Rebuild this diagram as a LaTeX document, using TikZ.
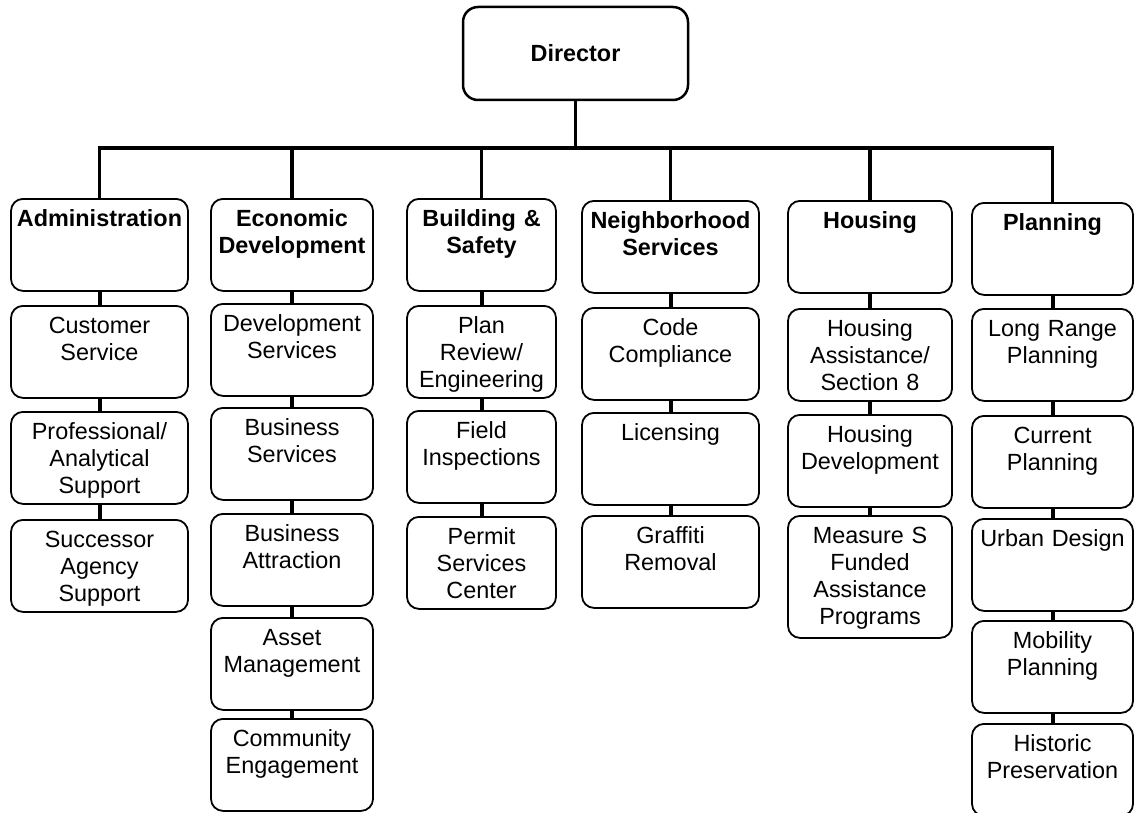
\documentclass[tikz,border=0pt]{standalone}
\usepackage{fontspec}
\setmainfont{Liberation Sans}
\usetikzlibrary{positioning}
\tikzset{font=\fontsize{23.4}{27}\selectfont}
\tikzset{every picture/.style={line width=1.8pt}}
\tikzstyle{unit}=[draw,rounded corners=12pt,anchor=north,align=center,inner xsep=2pt,inner ysep=0pt,text height=28pt,text depth=64pt]
\tikzstyle{head}=[unit,font=\fontsize{23.4}{27}\selectfont\bfseries]
\tikzstyle{conn}=[line width=3.2pt]
\tikzstyle{link}=[line width=4pt]
\tikzset{cA/.style={text width=173pt},cB/.style={text width=158pt},cC/.style={text width=145pt},
  cD/.style={text width=173pt},cE/.style={text width=160pt},cF/.style={text width=157pt}}

\begin{document}
\begin{tikzpicture}[x=1pt,y=-1pt]
\useasboundingbox (0,0) rectangle (1134,813);
\node[draw,rounded corners=15pt,line width=2.5pt,minimum width=225pt,minimum height=93pt,
  font=\fontsize{23.4}{27}\selectfont\bfseries] (dir) at (575.5,53.5) {\raisebox{-2pt}{Director}};
\coordinate (bus) at (575.5,148);
% divisions
\node[head,cA] (adm) at (99.5,198) {Administration};
\node[head,cB] (eco) at (292,198) {Economic\\Development};
\node[head,cC] (bld) at (481.5,198) {Building \&\\Safety};
\node[head,cD] (nbh) at (670.5,200) {Neighborhood\\Services};
\node[head,cE] (hou) at (870,200) {Housing};
\node[head,cF] (pln) at (1052.5,202) {Planning};
% sections
\node[unit,cA] (adm1) at (99.5,305) {Customer\\Service};
\node[unit,cA] (adm2) at (99.5,411) {Professional/\\Analytical\\Support};
\node[unit,cA] (adm3) at (99.5,519) {Successor\\Agency\\Support};
\node[unit,cB] (eco1) at (292,303) {Development\\Services};
\node[unit,cB] (eco2) at (292,407) {Business\\Services};
\node[unit,cB] (eco3) at (292,513) {Business\\Attraction};
\node[unit,cB] (eco4) at (292,617) {Asset\\Management};
\node[unit,cB] (eco5) at (292,718) {Community\\Engagement};
\node[unit,cC] (bld1) at (481.5,305) {Plan\\Review/\\Engineering};
\node[unit,cC] (bld2) at (481.5,410) {Field\\Inspections};
\node[unit,cC] (bld3) at (481.5,516) {Permit\\Services\\Center};
\node[unit,cD] (nbh1) at (670.5,307) {Code\\Compliance};
\node[unit,cD] (nbh2) at (670.5,412) {Licensing};
\node[unit,cD] (nbh3) at (670.5,515) {Graffiti\\Removal};
\node[unit,cE] (hou1) at (870,308) {Housing\\Assistance/\\Section 8};
\node[unit,cE] (hou2) at (870,414) {Housing\\Development};
\node[unit,cE,text depth=94pt] (hou3) at (870,515) {Measure S\\Funded\\Assistance\\Programs};
\node[unit,cF] (pln1) at (1052.5,308) {Long Range\\Planning};
\node[unit,cF] (pln2) at (1052.5,415) {Current\\Planning};
\node[unit,cF] (pln3) at (1052.5,518) {Urban Design};
\node[unit,cF] (pln4) at (1052.5,620) {Mobility\\Planning};
\node[unit,cF] (pln5) at (1052.5,723) {Historic\\Preservation};
\draw[conn] (dir) -- (bus);
\draw[conn] (bus) -| (adm.north);
\draw[conn] (bus) -| (eco.north);
\draw[conn] (bus) -| (bld.north);
\draw[conn] (bus) -| (nbh.north);
\draw[conn] (bus) -| (hou.north);
\draw[conn] (bus) -| (pln.north);
\path[link]
(adm) edge (adm1) (adm1) edge (adm2) (adm2) edge (adm3)
(eco) edge (eco1) (eco1) edge (eco2) (eco2) edge (eco3) (eco3) edge (eco4) (eco4) edge (eco5)
(bld) edge (bld1) (bld1) edge (bld2) (bld2) edge (bld3)
(nbh) edge (nbh1) (nbh1) edge (nbh2) (nbh2) edge (nbh3)
(hou) edge (hou1) (hou1) edge (hou2) (hou2) edge (hou3)
(pln) edge (pln1) (pln1) edge (pln2) (pln2) edge (pln3) (pln3) edge (pln4) (pln4) edge (pln5);
\end{tikzpicture}
\end{document}
